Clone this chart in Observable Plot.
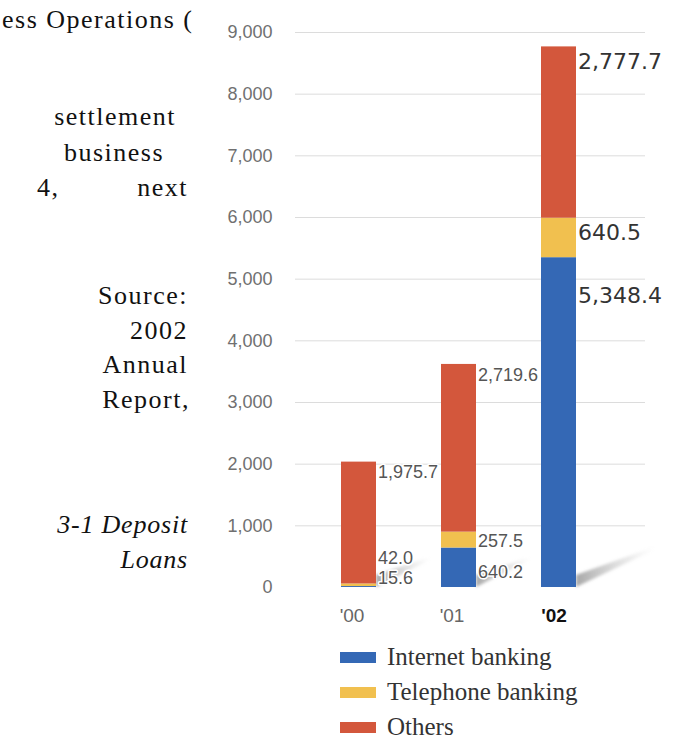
<!DOCTYPE html>
<html>
<head>
<meta charset="utf-8">
<script src="https://cdn.jsdelivr.net/npm/d3@7"></script>
<script src="https://cdn.jsdelivr.net/npm/@observablehq/plot@0.6"></script>
<style>
  html, body { margin: 0; padding: 0; background: #fff; }
  #page { position: relative; width: 682px; height: 742px; overflow: hidden; background: #fff; }
  .side { position: absolute; font-family: "Liberation Serif", "Times New Roman", serif; font-size: 26px; letter-spacing: 1.5px; color: #111; line-height: 26px; white-space: nowrap; }
  .r { text-align: right; }
  .it { font-style: italic; letter-spacing: 0.8px; }
  #chart { position: absolute; left: 200px; top: 0; }
  .leg { position: absolute; left: 340px; font-family: "Liberation Serif", "Times New Roman", serif; font-size: 25px; color: #333; white-space: nowrap; }
  .sw { position: absolute; left: 0; width: 36px; height: 11px; }
  .lt { position: absolute; left: 47px; line-height: 26px; }
</style>
</head>
<body>
<div id="page">
  <div class="side" style="left:2px;top:7px;">ess Operations (</div>
  <div class="side r" style="right:506px;top:104px;">settlement</div>
  <div class="side r" style="right:518px;top:140px;">business</div>
  <div class="side" style="left:37px;top:175px;">4,</div>
  <div class="side r" style="right:494px;top:175px;">next</div>
  <div class="side r" style="right:494px;top:283px;">Source:</div>
  <div class="side r" style="right:494px;top:318px;">2002</div>
  <div class="side r" style="right:494px;top:352px;">Annual</div>
  <div class="side r" style="right:492px;top:387px;">Report,</div>
  <div class="side r it" style="right:494px;top:512px;">3-1 Deposit</div>
  <div class="side r it" style="right:494px;top:547px;">Loans</div>
  <div id="chart"></div>
  <div id="legend"></div>
</div>
<script>
// ---- data ----
const years = ["'00", "'01", "'02"];
const seriesNames = ["Internet banking", "Telephone banking", "Others"];
const internet = [15.6, 640.2, 5348.4];
const telephone = [42.0, 257.5, 640.5];
const others = [1975.7, 2719.6, 2777.7];
const yTicks = [0, 1000, 2000, 3000, 4000, 5000, 6000, 7000, 8000, 9000];
const colors = ["#3468b5", "#f1c04f", "#d3573c"];

// ---- build table ----
const seriesValues = [internet, telephone, others];
const rows = [];
years.forEach((yr, i) => {
  let cum = 0;
  seriesNames.forEach((s, j) => {
    const v = seriesValues[j][i];
    cum += v;
    rows.push({year: yr, series: s, value: v, top: cum, yi: i, si: j});
  });
});
const totals = years.map((yr, i) => ({year: yr, total: internet[i] + telephone[i] + others[i], i}));

// label vertical offsets (px) relative to the segment top: [year][series]
const labelDy = [[-8, -26, 10], [24, 9, 11], [38, 15, 15]];
const fmt = d3.format(",.1f");

// decorative floor shadows to the right of each bar
function shadows(index, scales, values, dimensions) {
  const x = scales.x, y = scales.y;
  const bw = typeof x.bandwidth === "function" ? x.bandwidth() : x.bandwidth;
  const g = d3.create("svg:g");
  const defs = g.append("defs");
  const grad = defs.append("linearGradient").attr("id", "shgrad").attr("x1", 0).attr("x2", 1).attr("y1", 0).attr("y2", 0);
  grad.append("stop").attr("offset", "0%").attr("stop-color", "#8a8a8a").attr("stop-opacity", 0.75);
  grad.append("stop").attr("offset", "100%").attr("stop-color", "#bbb").attr("stop-opacity", 0);
  defs.append("filter").attr("id", "shblur").append("feGaussianBlur").attr("stdDeviation", 1.6);
  const y0 = y(0);
  totals.forEach(t => {
    const xr = x(t.year) + bw;
    const L = t.i === 2 ? 78 : 54;
    const H = t.i === 2 ? 40 : 30;
    const pts = [[xr, y0], [xr, y0 - 12], [xr + L, y0 - H], [xr + L, y0 - H + 3]];
    g.append("polygon")
      .attr("points", pts.map(p => p.join(",")).join(" "))
      .attr("fill", "url(#shgrad)")
      .attr("filter", "url(#shblur)");
  });
  return g.node();
}

const smallLabels = rows.filter(r => r.yi < 2).map(r =>
  Plot.text([r], {
    x: "year", y: "top", text: d => fmt(d.value),
    dx: 19, dy: labelDy[r.yi][r.si], textAnchor: "start",
    fontSize: 18, fontFamily: "Liberation Sans, Arial, sans-serif",
    fill: "#555", stroke: "white", strokeWidth: 3
  })
);
const bigLabels = rows.filter(r => r.yi === 2).map(r =>
  Plot.text([r], {
    x: "year", y: "top", text: d => fmt(d.value),
    dx: 19, dy: labelDy[r.yi][r.si], textAnchor: "start",
    fontSize: 22, fontFamily: "DejaVu Sans, sans-serif",
    fill: "#333", stroke: "white", strokeWidth: 2
  })
);

const chart = Plot.plot({
  width: 482,
  height: 630,
  marginTop: 32,
  marginBottom: 43,
  marginLeft: 95,
  marginRight: 37,
  style: {fontFamily: "Liberation Sans, Arial, sans-serif", fontSize: "18px", color: "#707070", background: "transparent", overflow: "visible"},
  x: {domain: years, paddingInner: 0.65, paddingOuter: 0.575, align: 0.4, axis: null},
  y: {domain: [0, 9000], ticks: yTicks, tickFormat: d3.format(","), tickSize: 0, tickPadding: 23, label: null},
  color: {domain: seriesNames, range: colors},
  marks: [
    Plot.ruleY(yTicks.filter(d => d > 0), {stroke: "#dcdcdc", strokeWidth: 1}),
    shadows,
    ...smallLabels,
    Plot.barY(rows, {x: "year", y: "value", fill: "series"}),
    ...bigLabels,
    Plot.text(years.filter(y => y !== "'02"), {x: d => d, y: () => 0, dy: 28, dx: -7, fontSize: 19, fill: "#666", fontFamily: "Liberation Sans, Arial, sans-serif"}),
    Plot.text(years.filter(y => y === "'02"), {x: d => d, y: () => 0, dy: 28, dx: -5, fontSize: 19, fontWeight: "bold", fill: "#111", fontFamily: "Liberation Sans, Arial, sans-serif"})
  ]
});
document.getElementById("chart").appendChild(chart);

// ---- legend ----
const legend = document.getElementById("legend");
const legendY = [658, 693, 728];
seriesNames.forEach((s, j) => {
  const row = document.createElement("div");
  row.className = "leg";
  row.style.top = (legendY[j]) + "px";
  const sw = document.createElement("div");
  sw.className = "sw";
  sw.style.background = colors[j];
  sw.style.top = "-6px";
  const t = document.createElement("div");
  t.className = "lt";
  t.style.top = "-14px";
  t.textContent = s;
  row.appendChild(sw);
  row.appendChild(t);
  legend.appendChild(row);
});
</script>
</body>
</html>
